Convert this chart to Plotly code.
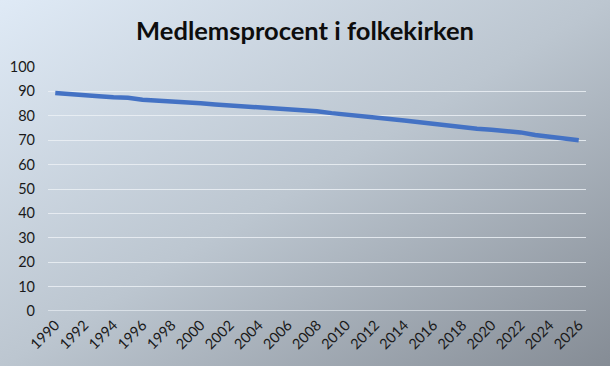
import base64
import plotly.graph_objects as go

years = [str(y) for y in range(1990, 2027)]
members = [89.3, 89.0, 88.4, 88.0, 87.6, 87.4, 86.6, 86.3, 85.8, 85.4,
           85.1, 84.6, 84.2, 83.7, 83.3, 83.3, 82.9, 82.4, 81.9, 81.1,
           80.6, 80.0, 79.6, 78.7, 78.1, 77.4, 76.6, 75.9, 75.3, 74.7,
           74.3, 73.9, 73.2, 72.1, 71.4, 70.7, 70.0]
tick_years = years[::2]

W, H = 610, 366
ml, mr, mt, mb = 48, 24, 67, 55
pw, ph = W - ml - mr, H - mt - mb

svg = ('<svg xmlns="http://www.w3.org/2000/svg" width="610" height="366" '
       'viewBox="0 0 610 366" preserveAspectRatio="none">'
       '<defs><linearGradient id="g" x1="0" y1="0" x2="1" y2="1">'
       '<stop offset="0" stop-color="#dfeaf6"/>'
       '<stop offset="0.5" stop-color="#bcc6d0"/>'
       '<stop offset="1" stop-color="#858c95"/>'
       '</linearGradient></defs>'
       '<rect width="610" height="366" fill="url(#g)"/></svg>')
src = "data:image/svg+xml;base64," + base64.b64encode(svg.encode()).decode()

font_fam = "Lato, Open Sans, sans-serif"

fig = go.Figure()
fig.add_trace(go.Scatter(x=years, y=members, mode="lines",
                         line=dict(color="#4472c4", width=4.5),
                         hoverinfo="skip", showlegend=False))

fig.update_layout(
    width=W, height=H,
    margin=dict(l=ml, r=mr, t=mt, b=mb),
    paper_bgcolor="rgba(0,0,0,0)",
    plot_bgcolor="rgba(0,0,0,0)",
    title=dict(text="<b>Medlemsprocent i folkekirken</b>", x=0.5, xref="container",
               xanchor="center", y=1 - 31 / H, yanchor="middle",
               font=dict(family=font_fam, size=25.5, color="#0d0d0d")),
    images=[dict(source=src, xref="paper", yref="paper",
                 x=-ml / pw, y=1 + mt / ph, sizex=W / pw, sizey=H / ph,
                 xanchor="left", yanchor="top", sizing="stretch", layer="below")],
    xaxis=dict(type="category", range=[-0.5, len(years) - 0.5], automargin=False,
               tickmode="array", tickvals=tick_years, ticktext=tick_years,
               tickangle=-45, showgrid=False, showline=False, zeroline=False,
               ticks="", ticklabelstandoff=2,
               tickfont=dict(family=font_fam, size=14.5, color="#1a1a1a")),
    yaxis=dict(range=[0, 100], dtick=10, tick0=0, showgrid=True, automargin=False,
               gridcolor="rgba(235,240,245,0.85)", gridwidth=1.3,
               zeroline=False, showline=False, ticks="", ticklabelstandoff=12,
               tickfont=dict(family=font_fam, size=14.5, color="#1a1a1a")),
)
fig.add_shape(type="line", xref="paper", yref="y", x0=0, x1=1, y0=0, y1=0,
              line=dict(color="rgba(235,240,245,0.85)", width=1.3), layer="below")

fig.write_html("out.html")
